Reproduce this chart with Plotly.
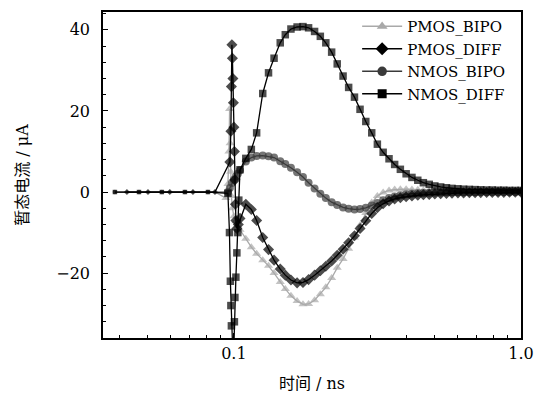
import plotly.graph_objects as go

# ---- time samples (ns) ----
t_pre_nmos = [0.0385, 0.0467, 0.0561, 0.0675, 0.0812]
t_pre_pmos = [0.0424, 0.0502, 0.0598, 0.0720, 0.0859]
t_main = [0.105, 0.110, 0.115, 0.120, 0.126, 0.132, 0.138, 0.145, 0.151, 0.158,
          0.166, 0.174, 0.182, 0.191, 0.200, 0.209, 0.219, 0.229, 0.240, 0.251,
          0.263, 0.275, 0.288, 0.302, 0.316, 0.331, 0.347, 0.363, 0.380, 0.398,
          0.417, 0.437, 0.457, 0.479, 0.501, 0.525, 0.550, 0.575, 0.603, 0.631,
          0.661, 0.692, 0.724, 0.759, 0.794, 0.832, 0.871, 0.912, 0.955, 1.000]

# ---- PMOS_BIPO ----
pb_pre = [0, 0, 0, 0, 0]
pb_spike_t = [0.0938, 0.0953, 0.0961, 0.0966, 0.0970, 0.0974, 0.0980, 0.0988, 0.1000, 0.1016, 0.1032]
pb_spike_y = [-1.5, 2.0, 10.0, 20.5, 12.0, 5.0, -1.0, -4.0, -6.0, -7.2, -8.3]
pb_main = [-9.3, -11.5, -13.6, -15.2, -16.8, -18.2, -20.0, -22.2, -23.9, -25.6,
           -26.9, -27.7, -27.6, -26.7, -25.2, -23.5, -21.2, -18.7, -16.5, -14.0,
           -11.2, -8.2, -5.2, -2.6, -1.0, -0.1, 0.4, 0.6, 0.7, 0.7,
           0.65, 0.55, 0.45, 0.38, 0.3, 0.25, 0.2, 0.17, 0.14, 0.12,
           0.1, 0.09, 0.08, 0.07, 0.06, 0.05, 0.05, 0.04, 0.04, 0.03]

# ---- PMOS_DIFF ----
pd_pre = [0, 0, 0, 0, 0]
pd_spike_t = [0.0968, 0.0976, 0.0980, 0.0984, 0.0988, 0.0992, 0.0996, 0.1000, 0.1004,
              0.1008, 0.1012, 0.1016, 0.1024, 0.1036]
pd_spike_y = [7.4, 15.0, 26.0, 36.3, 33.0, 28.0, 22.0, 16.0, 10.0,
              3.0, -3.0, -7.0, -9.0, -8.0]
pd_main = [-6.5, -3.0, -4.3, -7.0, -11.2, -14.2, -16.8, -19.0, -20.5, -21.7,
           -22.4, -22.3, -21.6, -20.5, -19.4, -18.3, -17.0, -15.6, -14.1, -12.5,
           -10.8, -9.0, -7.1, -5.3, -3.9, -2.9, -2.2, -1.7, -1.4, -1.15,
           -0.95, -0.8, -0.68, -0.58, -0.5, -0.42, -0.36, -0.3, -0.26, -0.22,
           -0.19, -0.16, -0.14, -0.12, -0.1, -0.09, -0.08, -0.07, -0.06, -0.05]

# ---- NMOS_BIPO ----
nb_pre = [0, 0, 0, 0, 0]
nb_spike_t = [0.0953, 0.0968, 0.0984, 0.1000, 0.1016, 0.1032]
nb_spike_y = [0.0, 1.0, 2.2, 3.0, 3.8, 4.5]
nb_main = [5.4, 7.5, 8.5, 8.9, 9.0, 8.8, 8.5, 7.6, 6.9, 6.0,
           4.9, 3.7, 2.3, 0.9, -0.4, -1.5, -2.5, -3.2, -3.8, -4.1,
           -4.3, -4.2, -3.9, -3.3, -2.7, -2.0, -1.5, -1.1, -0.8, -0.55,
           -0.4, -0.3, -0.22, -0.16, -0.12, -0.1, -0.08, -0.06, -0.05, -0.04,
           -0.03, -0.03, -0.02, -0.02, -0.02, -0.01, -0.01, -0.01, 0.0, 0.0]

# ---- NMOS_DIFF ----
nd_pre = [0, 0, 0, 0, 0]
nd_spike_t = [0.0953, 0.0965, 0.0972, 0.0976, 0.0980, 0.0984, 0.0990, 0.0996,
              0.1000, 0.1004, 0.1008, 0.1016, 0.1024, 0.1032, 0.1040]
nd_spike_y = [-0.3, -10.0, -22.0, -28.0, -33.0, -38.0, -44.0, -44.0,
              -38.0, -32.0, -26.0, -21.0, -15.0, -10.0, -2.0]
nd_main = [5.5, 8.3, 10.5, 14.6, 24.3, 29.4, 33.0, 36.8, 38.8, 40.2,
           40.7, 40.8, 40.5, 39.6, 38.4, 36.8, 34.5, 31.6, 28.6, 25.8,
           23.4, 20.4, 17.4, 14.6, 11.8, 9.8, 8.2, 6.8, 5.6, 4.5,
           3.6, 2.9, 2.3, 1.9, 1.5, 1.25, 1.05, 0.9, 0.8, 0.7,
           0.65, 0.6, 0.55, 0.5, 0.5, 0.45, 0.45, 0.4, 0.4, 0.4]

x_tickvals = [0.1, 1.0]
x_ticktext = ["0.1", "1.0"]
x_minor = [0.04, 0.05, 0.06, 0.07, 0.08, 0.09, 0.2, 0.3, 0.4, 0.5, 0.6, 0.7, 0.8, 0.9]
y_tickvals = [-20, 0, 20, 40]

SERIF = "DejaVu Serif, Noto Sans CJK SC"

series = [
    # name, pre t, pre y, rest t, rest y, color, symbol, size, legendrank
    ("PMOS_BIPO", t_pre_pmos, pb_pre, pb_spike_t + t_main, pb_spike_y + pb_main, "#a9a9a9", "triangle-up", 8, 1),
    ("NMOS_BIPO", t_pre_nmos, nb_pre, nb_spike_t + t_main, nb_spike_y + nb_main, "#3a3a3a", "circle", 8, 3),
    ("PMOS_DIFF", t_pre_pmos, pd_pre, pd_spike_t + t_main, pd_spike_y + pd_main, "#000000", "diamond", 8.5, 2),
    ("NMOS_DIFF", t_pre_nmos, nd_pre, nd_spike_t + t_main, nd_spike_y + nd_main, "#000000", "square", 7.5, 4),
]

fig = go.Figure()
for name, tp, yp, tr, yr, color, sym, size, rank in series:
    sizes = [4.5] * len(tp) + [size] * len(tr)
    fig.add_trace(go.Scatter(
        x=tp + tr, y=yp + yr, name=name, mode="lines+markers",
        line=dict(color=color, width=1.3),
        marker=dict(symbol=sym, size=sizes, color=color, line=dict(width=0)),
        showlegend=False,
    ))
    # legend entry
    fig.add_trace(go.Scatter(
        x=[None], y=[None], name=name, mode="lines+markers",
        line=dict(color=color, width=1.6),
        marker=dict(symbol=sym, size=size + 1.5, color=color, line=dict(width=0)),
        legendrank=rank, showlegend=True,
    ))

fig.update_layout(
    width=543, height=404,
    margin=dict(l=103, r=22, t=12, b=66, autoexpand=False),
    paper_bgcolor="white", plot_bgcolor="white",
    font=dict(family=SERIF, size=16, color="black"),
    showlegend=True,
    legend=dict(x=0.608, y=1.006, xanchor="left", yanchor="top",
                bgcolor="rgba(0,0,0,0)", borderwidth=0,
                font=dict(family=SERIF, size=15), tracegroupgap=0,
                itemwidth=40),
)
fig.update_xaxes(
    type="log", range=[-1.456, 0.0],
    tickmode="array", tickvals=x_tickvals, ticktext=x_ticktext,
    ticks="inside", ticklen=5, tickwidth=1.2, tickcolor="black",
    minor=dict(tickmode="array", tickvals=x_minor, ticks="inside", ticklen=3, tickcolor="black", showgrid=False),
    showline=True, linecolor="black", linewidth=1.5, mirror=True,
    showgrid=False, zeroline=False,
    title=dict(text="时间 / ns", standoff=16, font=dict(family=SERIF, size=16)),
    tickfont=dict(family=SERIF, size=16),
)
fig.update_yaxes(
    range=[-36, 44.4],
    tickmode="array", tickvals=y_tickvals,
    ticks="inside", ticklen=5, tickwidth=1.2, tickcolor="black",
    minor=dict(dtick=4, tick0=0, ticks="inside", ticklen=3, tickcolor="black", showgrid=False),
    showline=True, linecolor="black", linewidth=1.5, mirror=True,
    showgrid=False, zeroline=False,
    ticklabelstandoff=8,
    title=dict(text="暂态电流 / μA", standoff=24, font=dict(family=SERIF, size=16)),
    tickfont=dict(family=SERIF, size=16),
)

fig.write_html("out.html")
